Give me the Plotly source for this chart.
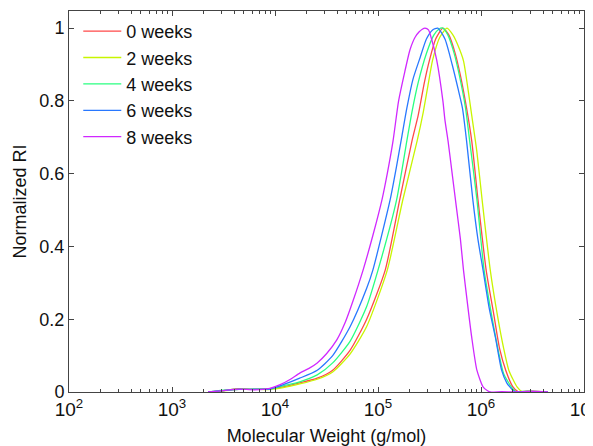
import plotly.graph_objects as go

# ---- data (log10 of molecular weight, normalized RI) ----
series_names = ["0 weeks", "2 weeks", "4 weeks", "6 weeks", "8 weeks"]
series_colors = ["#ff4848", "#c8f500", "#28ff80", "#2878ff", "#d028ff"]

logM_0wk = [3.35, 3.5, 3.65, 3.8, 3.95, 4.08, 4.24, 4.41, 4.56, 4.73, 4.89, 5.07, 5.21, 5.33, 5.39, 5.45, 5.50,
            5.56, 5.63, 5.69, 5.75, 5.80, 5.86, 5.91, 5.97, 6.05, 6.12, 6.18, 6.24, 6.31, 6.36, 6.45, 6.55, 6.65]
ri_0wk = [0.0, 0.004, 0.009, 0.007, 0.009, 0.014, 0.025, 0.038, 0.06, 0.115, 0.20, 0.335, 0.527, 0.69, 0.76, 0.85, 0.912,
          0.97, 1.0, 0.98, 0.93, 0.87, 0.78, 0.69, 0.53, 0.335, 0.22, 0.12, 0.06, 0.014, 0.001, 0.002, 0.001, 0.0]

logM_2wk = [3.35, 3.5, 3.65, 3.8, 3.95, 4.08, 4.24, 4.41, 4.56, 4.73, 4.89, 5.09, 5.24, 5.38, 5.44, 5.49, 5.53,
            5.60, 5.67, 5.73, 5.78, 5.83, 5.88, 5.91, 5.96, 6.01, 6.09, 6.16, 6.22, 6.27, 6.35, 6.40, 6.5, 6.65]
ri_2wk = [0.0, 0.003, 0.007, 0.008, 0.007, 0.012, 0.022, 0.035, 0.055, 0.105, 0.18, 0.335, 0.527, 0.69, 0.77, 0.85, 0.912,
          0.975, 1.0, 0.98, 0.95, 0.91, 0.82, 0.76, 0.66, 0.53, 0.335, 0.21, 0.12, 0.06, 0.014, 0.001, 0.002, 0.0]

logM_4wk = [3.35, 3.5, 3.65, 3.8, 3.95, 4.08, 4.24, 4.41, 4.56, 4.73, 4.89, 5.0, 5.18, 5.28, 5.33, 5.39, 5.47,
            5.54, 5.59, 5.63, 5.68, 5.74, 5.79, 5.85, 5.89, 5.96, 6.03, 6.11, 6.17, 6.22, 6.30, 6.34, 6.45, 6.65]
ri_4wk = [0.0, 0.005, 0.008, 0.007, 0.008, 0.017, 0.028, 0.047, 0.08, 0.14, 0.235, 0.335, 0.527, 0.69, 0.77, 0.85, 0.93,
          0.98, 0.997, 1.0, 0.98, 0.93, 0.87, 0.78, 0.69, 0.53, 0.335, 0.2, 0.11, 0.05, 0.012, 0.001, 0.002, 0.0]

logM_6wk = [3.35, 3.5, 3.65, 3.8, 3.95, 4.08, 4.24, 4.41, 4.56, 4.73, 4.89, 4.95, 5.117, 5.18, 5.23, 5.28, 5.34, 5.41,
            5.47, 5.53, 5.58, 5.65, 5.72, 5.78, 5.82, 5.86, 5.92, 5.97, 6.02, 6.08, 6.14, 6.20, 6.25, 6.28, 6.32, 6.45, 6.65]
ri_6wk = [0.0, 0.004, 0.007, 0.008, 0.008, 0.02, 0.038, 0.06, 0.10, 0.18, 0.285, 0.335, 0.527, 0.62, 0.70, 0.78, 0.86, 0.92,
          0.97, 0.995, 1.0, 0.97, 0.90, 0.83, 0.78, 0.69, 0.53, 0.42, 0.335, 0.23, 0.15, 0.06, 0.025, 0.014, 0.002, 0.001, 0.0]

logM_8wk = [3.35, 3.5, 3.65, 3.8, 3.95, 4.05, 4.15, 4.24, 4.33, 4.41, 4.5, 4.6, 4.68, 4.757, 4.855, 4.95, 5.04, 5.09,
            5.146, 5.2, 5.26, 5.31, 5.36, 5.40, 5.43, 5.456, 5.49, 5.52, 5.57, 5.63, 5.65, 5.68, 5.72, 5.76, 5.80,
            5.83, 5.87, 5.91, 5.96, 6.02, 6.06, 6.09, 6.2, 6.35, 6.5, 6.65]
ri_8wk = [0.0, 0.004, 0.008, 0.006, 0.01, 0.02, 0.035, 0.052, 0.065, 0.08, 0.105, 0.143, 0.19, 0.25, 0.335, 0.43, 0.53,
          0.60, 0.69, 0.80, 0.88, 0.94, 0.975, 0.99, 0.997, 1.0, 0.995, 0.97, 0.912, 0.80, 0.747, 0.69, 0.60, 0.51,
          0.42, 0.335, 0.24, 0.15, 0.06, 0.014, 0.004, 0.0, 0.001, 0.0, 0.002, 0.0]

x_tick_vals = [1e2, 1e3, 1e4, 1e5, 1e6, 1e7]
x_tick_text = ["10<sup>2</sup>", "10<sup>3</sup>", "10<sup>4</sup>", "10<sup>5</sup>", "10<sup>6</sup>", "10<sup>7</sup>"]
x_minor_vals = [m * d for d in (1e2, 1e3, 1e4, 1e5, 1e6) for m in (2, 3, 4, 5, 6, 7, 8, 9)]
y_tick_vals = [0, 0.2, 0.4, 0.6, 0.8, 1.0]
y_tick_text = ["0", "0.2", "0.4", "0.6", "0.8", "1"]

all_logM = [logM_0wk, logM_2wk, logM_4wk, logM_6wk, logM_8wk]
all_ri = [ri_0wk, ri_2wk, ri_4wk, ri_6wk, ri_8wk]

FONT = "Liberation Sans, Arial, sans-serif"
AX = "#444444"

fig = go.Figure()
for name, col, lm, ri in zip(series_names, series_colors, all_logM, all_ri):
    fig.add_trace(go.Scatter(
        x=[10 ** v for v in lm], y=ri, mode="lines", name=name,
        line=dict(color=col, width=1.3, shape="spline", smoothing=0.6),
    ))

# the page body has an 8px margin, so the figure is sized/margined to compensate
fig.update_layout(
    width=585, height=438,
    margin=dict(l=61, r=9, t=3, b=54, autoexpand=False),
    paper_bgcolor="white", plot_bgcolor="white",
    font=dict(family=FONT, size=18, color="#111111"),
    showlegend=True,
    legend=dict(x=0.018, y=0.995, xanchor="left", yanchor="top", bgcolor="rgba(0,0,0,0)",
                font=dict(size=18), tracegroupgap=0, itemwidth=38),
    xaxis=dict(
        type="log", range=[2, 7], tickmode="array", tickvals=x_tick_vals, ticktext=x_tick_text,
        showgrid=False, zeroline=False, showline=True, linecolor=AX, linewidth=1, mirror="ticks",
        ticks="inside", ticklen=5, tickcolor=AX, ticklabeloverflow="allow",
        minor=dict(tickmode="array", tickvals=x_minor_vals, ticks="inside", ticklen=3,
                   tickcolor=AX, showgrid=False),
        tickfont=dict(size=19),
        title=dict(text="Molecular Weight (g/mol)", standoff=10, font=dict(size=18)),
    ),
    yaxis=dict(
        range=[0, 1.047], tickvals=y_tick_vals, ticktext=y_tick_text,
        showgrid=False, zeroline=False, showline=True, linecolor=AX, linewidth=1, mirror="ticks",
        ticks="inside", ticklen=5, tickcolor=AX,
        title=dict(text="Normalized RI", standoff=8, font=dict(size=18)),
    ),
)

fig.write_html("out.html")
